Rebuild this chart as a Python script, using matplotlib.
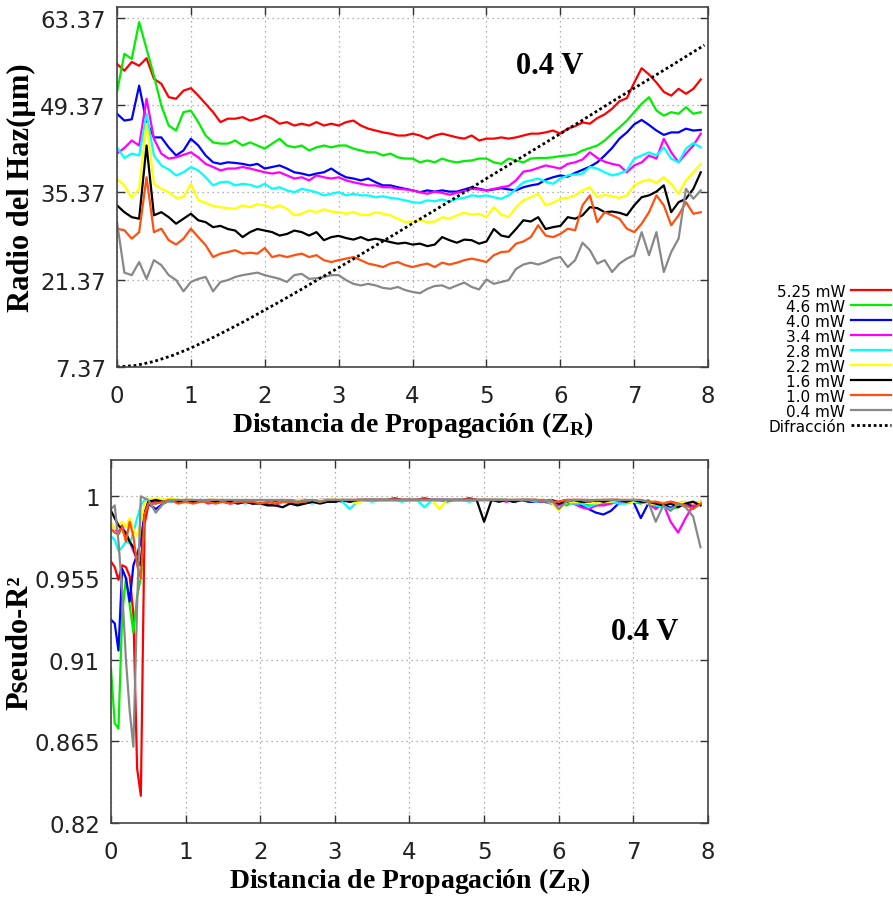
import matplotlib
matplotlib.use("Agg")
import matplotlib.pyplot as plt

# ---- data ----
labels = ["5.25 mW", "4.6 mW", "4.0 mW", "3.4 mW", "2.8 mW",
          "2.2 mW", "1.6 mW", "1.0 mW", "0.4 mW"]
colors = ["#ff0000", "#00ee00", "#0000ff", "#ff00ff", "#00ffff",
          "#ffff00", "#000000", "#ff5010", "#888888"]

z_top = [0.0, 0.1, 0.2, 0.3, 0.4, 0.5, 0.6, 0.7, 0.8, 0.9,
         1.0, 1.1, 1.2, 1.3, 1.4, 1.5, 1.6, 1.7, 1.8, 1.9,
         2.0, 2.1, 2.2, 2.3, 2.4, 2.5, 2.6, 2.7, 2.8, 2.9,
         3.0, 3.1, 3.2, 3.3, 3.4, 3.5, 3.6, 3.7, 3.8, 3.9,
         4.0, 4.1, 4.2, 4.3, 4.4, 4.5, 4.6, 4.7, 4.8, 4.9,
         5.0, 5.1, 5.2, 5.3, 5.4, 5.5, 5.6, 5.7, 5.8, 5.9,
         6.0, 6.1, 6.2, 6.3, 6.4, 6.5, 6.6, 6.7, 6.8, 6.9,
         7.0, 7.1, 7.2, 7.3, 7.4, 7.5, 7.6, 7.7, 7.8, 7.9]

r_525 = [56.0, 54.9, 56.3, 55.7, 56.9, 53.6, 52.8, 50.65, 50.4, 51.7,
         52.1, 50.9, 49.6, 48.25, 46.65, 47.2, 47.2, 47.45, 46.9, 47.2,
         47.7, 47.2, 46.4, 46.65, 46.1, 46.4, 46.1, 46.65, 46.1, 46.4,
         46.1, 46.65, 46.9, 46.1, 45.6, 45.3, 45.0, 44.8, 44.5, 44.5,
         44.8, 44.5, 44.0, 44.5, 44.8, 44.5, 44.2, 44.0, 44.5, 43.7,
         44.0, 44.0, 44.2, 44.0, 44.2, 44.5, 44.8, 44.8, 45.0, 45.3,
         44.8, 45.6, 46.0, 46.6, 46.4, 47.3, 47.9, 48.8, 50.0, 50.5,
         53.0, 55.3, 54.3, 53.0, 51.5, 50.9, 52.0, 51.2, 52.0, 53.5]
r_46 = [51.45, 57.6, 56.8, 62.7, 58.4, 54.1, 49.3, 46.1, 45.3, 48.25,
        48.5, 46.65, 44.5, 43.4, 43.2, 43.2, 43.7, 42.9, 43.4, 42.9,
        42.4, 43.2, 43.97, 42.9, 42.6, 42.9, 42.1, 42.6, 42.9, 42.6,
        42.9, 42.9, 42.4, 42.1, 41.8, 41.8, 41.3, 41.6, 41.0, 40.8,
        40.8, 40.2, 40.5, 40.2, 40.8, 40.4, 40.2, 40.4, 40.5, 40.8,
        40.8, 40.2, 39.95, 40.8, 40.5, 40.2, 40.8, 40.9, 40.9, 41.0,
        41.2, 41.3, 41.5, 42.1, 42.5, 42.9, 43.7, 44.8, 45.8, 46.9,
        48.25, 49.6, 50.65, 48.5, 47.7, 48.25, 48.0, 49.05, 48.0, 48.25]
r_40 = [48.0, 46.9, 47.1, 52.5, 46.65, 44.2, 44.2, 42.6, 41.3, 42.1,
        43.97, 42.9, 41.3, 40.2, 39.95, 40.2, 40.1, 39.95, 39.7, 39.95,
        39.2, 39.45, 39.7, 39.2, 38.6, 38.4, 38.1, 38.4, 38.6, 39.2,
        38.4, 37.8, 37.6, 37.3, 37.6, 37.0, 36.5, 36.5, 36.2, 35.95,
        35.7, 35.4, 35.7, 35.5, 35.7, 35.5, 35.5, 35.85, 36.2, 35.95,
        35.7, 35.85, 36.05, 35.85, 35.7, 36.2, 36.5, 36.7, 37.4, 37.8,
        38.1, 37.9, 38.5, 39.0, 39.5, 40.2, 41.3, 42.5, 44.0, 45.0,
        46.3, 47.0, 46.2, 45.3, 44.6, 45.0, 45.0, 45.6, 45.3, 45.4]
r_34 = [41.6, 42.5, 43.7, 42.9, 50.4, 43.97, 41.6, 40.8, 41.0, 41.4,
        41.8, 41.0, 39.95, 39.45, 38.9, 39.2, 39.2, 39.45, 39.2, 38.9,
        38.6, 38.4, 38.6, 38.1, 37.6, 37.8, 37.3, 38.1, 37.8, 37.6,
        37.8, 37.3, 37.0, 36.75, 36.5, 36.5, 36.2, 36.2, 35.95, 35.85,
        35.7, 35.4, 35.15, 35.5, 35.3, 35.0, 35.3, 35.6, 35.95, 35.85,
        35.7, 35.95, 36.2, 36.4, 37.3, 38.7, 38.9, 39.3, 39.7, 39.45,
        39.2, 39.95, 40.2, 40.65, 41.8, 40.9, 40.3, 39.95, 39.7, 38.6,
        39.7, 40.2, 41.3, 40.8, 43.97, 41.8, 40.2, 41.6, 42.9, 44.8]
r_28 = [42.6, 40.9, 41.6, 41.3, 48.0, 41.3, 39.7, 39.05, 38.1, 38.6,
        39.45, 38.9, 37.8, 36.5, 37.0, 37.1, 36.5, 36.75, 36.6, 36.2,
        36.75, 35.95, 36.2, 35.7, 35.4, 35.95, 35.7, 35.4, 34.9, 35.15,
        35.4, 34.9, 35.15, 34.9, 34.9, 34.6, 34.75, 34.5, 34.35, 34.1,
        33.8, 33.7, 34.1, 33.95, 34.25, 33.9, 34.35, 34.5, 34.9, 34.75,
        34.9, 34.6, 34.35, 34.9, 35.95, 37.0, 37.3, 37.6, 37.1, 36.75,
        37.6, 38.1, 38.25, 38.4, 39.45, 39.2, 38.6, 38.1, 38.4, 38.9,
        40.8, 41.3, 41.8, 41.3, 42.6, 40.8, 40.2, 42.4, 43.3, 42.6]
r_22 = [37.55, 36.5, 34.5, 35.95, 46.4, 36.75, 35.95, 35.4, 34.5, 34.6,
        36.75, 34.1, 33.7, 33.2, 33.0, 32.85, 32.75, 33.3, 33.0, 33.5,
        33.3, 32.85, 33.3, 32.75, 31.7, 31.95, 32.5, 32.2, 32.65, 32.3,
        32.2, 31.95, 32.2, 31.8, 31.7, 32.2, 31.95, 31.7, 31.15, 30.6,
        30.7, 30.9, 30.6, 30.7, 31.4, 31.15, 31.7, 32.1, 31.8, 31.95,
        31.4, 33.0, 31.8, 31.4, 33.0, 34.1, 34.6, 35.15, 33.3, 33.7,
        34.35, 34.5, 34.9, 35.7, 36.2, 34.6, 35.0, 34.75, 34.5, 34.9,
        36.5, 37.1, 37.45, 36.9, 37.8, 36.75, 35.15, 37.3, 38.6, 39.95]
r_16 = [33.3, 32.2, 31.4, 31.15, 42.9, 31.7, 32.2, 31.4, 30.35, 31.15,
        31.95, 30.9, 30.6, 29.8, 30.0, 29.5, 29.25, 28.2, 29.0, 29.5,
        29.25, 29.0, 28.45, 28.7, 29.25, 29.0, 28.45, 29.0, 27.7, 28.2,
        28.4, 28.05, 27.8, 28.2, 27.7, 27.95, 27.7, 27.4, 27.15, 27.3,
        27.0, 27.15, 26.75, 27.0, 28.2, 27.7, 27.3, 27.8, 27.7, 27.15,
        27.5, 29.5, 28.45, 28.2, 29.5, 30.9, 30.7, 31.4, 29.5, 29.8,
        30.0, 31.4, 31.15, 31.7, 33.0, 32.85, 32.2, 32.3, 32.1, 31.7,
        33.3, 34.6, 34.9, 35.5, 36.5, 32.2, 33.8, 34.35, 35.95, 38.6]
r_10 = [29.55, 29.3, 27.95, 29.0, 37.8, 29.0, 29.55, 27.7, 27.0, 27.95,
        29.55, 28.2, 26.9, 25.0, 25.55, 25.8, 26.1, 25.55, 25.7, 25.55,
        26.45, 25.0, 25.3, 25.0, 25.3, 25.55, 25.0, 25.3, 24.5, 24.2,
        24.5, 24.75, 25.0, 24.5, 23.95, 23.7, 23.4, 23.95, 24.2, 23.7,
        23.4, 23.7, 23.95, 23.4, 24.1, 23.8, 24.1, 24.5, 24.75, 24.5,
        24.2, 25.3, 25.8, 25.9, 27.15, 27.5, 28.2, 30.1, 28.45, 28.2,
        28.7, 29.55, 29.3, 33.3, 34.9, 30.6, 32.2, 31.7, 31.15, 29.55,
        29.0, 30.35, 32.2, 34.9, 33.3, 30.1, 31.7, 33.8, 31.95, 32.2]
r_04 = [30.6, 22.5, 22.1, 24.2, 21.5, 24.5, 23.7, 22.1, 21.3, 19.5,
        21.0, 21.5, 21.8, 19.5, 21.0, 21.3, 21.8, 22.1, 22.3, 22.5,
        22.1, 21.8, 21.5, 21.0, 22.1, 22.3, 21.5, 21.6, 21.8, 22.1,
        22.1, 21.3, 20.7, 20.45, 20.7, 20.45, 20.05, 19.9, 20.2, 19.7,
        19.4, 19.2, 19.9, 20.35, 20.45, 19.95, 20.45, 20.9, 20.2, 19.8,
        21.4, 20.7, 21.0, 21.3, 23.1, 23.8, 24.1, 23.8, 24.2, 24.75,
        25.0, 23.4, 24.5, 27.3, 26.1, 23.95, 24.5, 22.6, 23.95, 24.75,
        25.3, 29.0, 25.3, 29.0, 22.6, 25.8, 27.95, 35.95, 34.35, 35.7]
radius = [r_525, r_46, r_40, r_34, r_28, r_22, r_16, r_10, r_04]

z_dif = [0.0, 0.25, 0.5, 0.75, 1.0, 1.25, 1.5, 1.75, 2.0, 2.25, 2.5, 2.75,
         3.0, 3.25, 3.5, 3.75, 4.0, 4.25, 4.5, 4.75, 5.0, 5.25, 5.5, 5.75,
         6.0, 6.25, 6.5, 6.75, 7.0, 7.25, 7.5, 7.75, 7.95]
w_dif = [7.37, 7.6, 8.25, 9.2, 10.4, 11.8, 13.3, 14.85, 16.5, 18.15, 19.85, 21.6,
         23.3, 25.05, 26.85, 28.6, 30.4, 32.15, 33.95, 35.75, 37.6, 39.4, 41.2, 43.0,
         44.8, 46.6, 48.45, 50.3, 52.1, 53.9, 55.7, 57.55, 59.0]

z_bot = [0.0, 0.05, 0.1, 0.15, 0.2, 0.25, 0.3, 0.35, 0.4, 0.45, 0.5,
         0.6, 0.7, 0.8, 0.9, 1.0, 1.1, 1.2, 1.3, 1.4, 1.5,
         1.6, 1.7, 1.8, 1.9, 2.0, 2.1, 2.2, 2.3, 2.4, 2.5,
         2.6, 2.7, 2.8, 2.9, 3.0, 3.1, 3.2, 3.3, 3.4, 3.5,
         3.6, 3.7, 3.8, 3.9, 4.0, 4.1, 4.2, 4.3, 4.4, 4.5,
         4.6, 4.7, 4.8, 4.9, 5.0, 5.1, 5.2, 5.3, 5.4, 5.5,
         5.6, 5.7, 5.8, 5.9, 6.0, 6.1, 6.2, 6.3, 6.4, 6.5,
         6.6, 6.7, 6.8, 6.9, 7.0, 7.1, 7.2, 7.3, 7.4, 7.5,
         7.6, 7.7, 7.8, 7.9]

q_525 = [0.964, 0.961, 0.954, 0.962, 0.961, 0.956, 0.935, 0.85, 0.835, 0.985, 0.995,
         0.997, 0.998, 0.998, 0.997, 0.998, 0.998, 0.997, 0.998, 0.998, 0.997,
         0.998, 0.997, 0.998, 0.997, 0.997, 0.996, 0.997, 0.998, 0.997, 0.998,
         0.998, 0.997, 0.998, 0.998, 0.998, 0.997, 0.998, 0.998, 0.998, 0.998,
         0.998, 0.998, 0.999, 0.998, 0.998, 0.998, 0.999, 0.998, 0.998, 0.998,
         0.998, 0.998, 0.999, 0.998, 0.998, 0.998, 0.998, 0.998, 0.998, 0.998,
         0.998, 0.998, 0.997, 0.998, 0.997, 0.998, 0.998, 0.998, 0.998, 0.997,
         0.998, 0.998, 0.998, 0.997, 0.998, 0.997, 0.996, 0.997, 0.996, 0.997,
         0.996, 0.997, 0.995, 0.997]
q_46 = [0.905, 0.875, 0.872, 0.935, 0.955, 0.94, 0.925, 0.945, 0.955, 0.99, 0.997,
        0.996, 0.998, 0.997, 0.998, 0.997, 0.998, 0.997, 0.998, 0.997, 0.997,
        0.997, 0.998, 0.997, 0.996, 0.997, 0.997, 0.996, 0.997, 0.997, 0.998,
        0.997, 0.998, 0.997, 0.998, 0.998, 0.998, 0.997, 0.998, 0.998, 0.998,
        0.998, 0.998, 0.998, 0.998, 0.998, 0.998, 0.998, 0.998, 0.998, 0.997,
        0.998, 0.998, 0.998, 0.998, 0.998, 0.998, 0.998, 0.998, 0.997, 0.998,
        0.997, 0.998, 0.997, 0.997, 0.996, 0.995, 0.997, 0.996, 0.995, 0.995,
        0.996, 0.997, 0.998, 0.997, 0.997, 0.996, 0.998, 0.994, 0.995, 0.993,
        0.994, 0.996, 0.997, 0.996]
q_40 = [0.932, 0.930, 0.915, 0.96, 0.955, 0.942, 0.962, 0.968, 0.975, 0.992, 0.996,
        0.993, 0.996, 0.998, 0.997, 0.998, 0.997, 0.998, 0.997, 0.997, 0.998,
        0.997, 0.997, 0.998, 0.997, 0.997, 0.997, 0.996, 0.997, 0.998, 0.997,
        0.998, 0.997, 0.998, 0.998, 0.997, 0.998, 0.998, 0.997, 0.998, 0.998,
        0.998, 0.998, 0.998, 0.998, 0.998, 0.998, 0.998, 0.998, 0.998, 0.998,
        0.998, 0.998, 0.998, 0.998, 0.998, 0.998, 0.998, 0.998, 0.997, 0.998,
        0.997, 0.997, 0.998, 0.997, 0.996, 0.997, 0.996, 0.995, 0.993, 0.991,
        0.990, 0.992, 0.996, 0.997, 0.997, 0.988, 0.996, 0.995, 0.996, 0.994,
        0.995, 0.996, 0.994, 0.996]
q_34 = [0.985, 0.982, 0.98, 0.984, 0.978, 0.975, 0.97, 0.965, 0.962, 0.99, 0.997,
        0.997, 0.998, 0.997, 0.998, 0.997, 0.997, 0.998, 0.996, 0.997, 0.997,
        0.996, 0.997, 0.997, 0.996, 0.997, 0.996, 0.995, 0.997, 0.997, 0.996,
        0.997, 0.997, 0.998, 0.997, 0.997, 0.998, 0.997, 0.998, 0.998, 0.998,
        0.998, 0.998, 0.998, 0.998, 0.998, 0.998, 0.998, 0.998, 0.998, 0.998,
        0.998, 0.998, 0.998, 0.998, 0.998, 0.998, 0.998, 0.997, 0.998, 0.998,
        0.998, 0.997, 0.997, 0.996, 0.995, 0.997, 0.996, 0.994, 0.993, 0.995,
        0.995, 0.996, 0.997, 0.997, 0.998, 0.997, 0.996, 0.993, 0.996, 0.986,
        0.980, 0.988, 0.995, 0.996]
q_28 = [0.978, 0.976, 0.97, 0.972, 0.975, 0.974, 0.98, 0.988, 0.995, 0.998, 0.998,
        0.998, 0.998, 0.997, 0.998, 0.997, 0.998, 0.997, 0.997, 0.998, 0.997,
        0.997, 0.997, 0.996, 0.997, 0.997, 0.997, 0.996, 0.997, 0.996, 0.997,
        0.997, 0.996, 0.998, 0.997, 0.998, 0.997, 0.993, 0.997, 0.998, 0.997,
        0.998, 0.998, 0.998, 0.997, 0.998, 0.998, 0.994, 0.998, 0.998, 0.998,
        0.998, 0.998, 0.997, 0.998, 0.998, 0.998, 0.998, 0.998, 0.998, 0.998,
        0.998, 0.997, 0.998, 0.996, 0.997, 0.997, 0.996, 0.996, 0.994, 0.996,
        0.997, 0.997, 0.996, 0.996, 0.997, 0.997, 0.996, 0.995, 0.994, 0.993,
        0.995, 0.996, 0.997, 0.996]
q_22 = [0.985, 0.982, 0.984, 0.986, 0.983, 0.988, 0.982, 0.978, 0.985, 0.996, 0.998,
        0.999, 0.998, 0.999, 0.998, 0.998, 0.998, 0.997, 0.998, 0.998, 0.998,
        0.997, 0.998, 0.997, 0.997, 0.998, 0.997, 0.996, 0.997, 0.997, 0.998,
        0.998, 0.997, 0.998, 0.998, 0.998, 0.998, 0.998, 0.996, 0.998, 0.998,
        0.998, 0.998, 0.998, 0.998, 0.998, 0.998, 0.998, 0.998, 0.993, 0.998,
        0.998, 0.998, 0.998, 0.998, 0.998, 0.998, 0.998, 0.998, 0.998, 0.998,
        0.998, 0.998, 0.998, 0.997, 0.992, 0.997, 0.997, 0.997, 0.997, 0.996,
        0.997, 0.997, 0.998, 0.997, 0.997, 0.998, 0.996, 0.996, 0.997, 0.995,
        0.996, 0.997, 0.996, 0.997]
q_16 = [0.992, 0.988, 0.984, 0.982, 0.98, 0.975, 0.972, 0.965, 0.962, 0.99, 0.997,
        0.998, 0.997, 0.998, 0.997, 0.998, 0.997, 0.998, 0.997, 0.997, 0.998,
        0.997, 0.996, 0.997, 0.996, 0.996, 0.995, 0.995, 0.994, 0.996, 0.995,
        0.996, 0.997, 0.996, 0.997, 0.997, 0.998, 0.997, 0.998, 0.998, 0.998,
        0.998, 0.998, 0.998, 0.998, 0.998, 0.998, 0.998, 0.998, 0.998, 0.998,
        0.998, 0.998, 0.998, 0.998, 0.986, 0.998, 0.997, 0.998, 0.997, 0.998,
        0.998, 0.998, 0.997, 0.998, 0.996, 0.997, 0.998, 0.997, 0.997, 0.998,
        0.997, 0.998, 0.998, 0.997, 0.998, 0.997, 0.997, 0.996, 0.995, 0.996,
        0.994, 0.996, 0.997, 0.995]
q_10 = [0.982, 0.98, 0.979, 0.983, 0.975, 0.986, 0.978, 0.962, 0.955, 0.99, 0.996,
        0.996, 0.997, 0.998, 0.996, 0.997, 0.996, 0.997, 0.997, 0.996, 0.997,
        0.996, 0.997, 0.997, 0.997, 0.996, 0.997, 0.996, 0.997, 0.997, 0.997,
        0.997, 0.998, 0.997, 0.998, 0.998, 0.998, 0.998, 0.998, 0.998, 0.998,
        0.998, 0.998, 0.998, 0.998, 0.998, 0.998, 0.998, 0.998, 0.998, 0.998,
        0.998, 0.998, 0.998, 0.998, 0.998, 0.998, 0.998, 0.998, 0.998, 0.998,
        0.998, 0.998, 0.998, 0.997, 0.997, 0.998, 0.998, 0.998, 0.997, 0.998,
        0.998, 0.998, 0.998, 0.998, 0.998, 0.998, 0.997, 0.997, 0.996, 0.997,
        0.996, 0.995, 0.993, 0.996]
q_04 = [0.993, 0.995, 0.975, 0.948, 0.91, 0.882, 0.862, 0.94, 1.0, 0.999, 0.998,
        0.991, 0.996, 0.998, 0.998, 0.998, 0.998, 0.998, 0.998, 0.998, 0.998,
        0.998, 0.998, 0.998, 0.998, 0.998, 0.998, 0.998, 0.998, 0.998, 0.997,
        0.998, 0.998, 0.997, 0.998, 0.998, 0.998, 0.998, 0.998, 0.998, 0.998,
        0.998, 0.998, 0.998, 0.998, 0.998, 0.998, 0.998, 0.998, 0.998, 0.998,
        0.998, 0.998, 0.998, 0.998, 0.998, 0.998, 0.998, 0.998, 0.998, 0.998,
        0.998, 0.998, 0.997, 0.998, 0.993, 0.997, 0.998, 0.998, 0.998, 0.998,
        0.998, 0.998, 0.998, 0.998, 0.998, 0.998, 0.997, 0.986, 0.995, 0.992,
        0.996, 0.994, 0.989, 0.972]
pseudo_r2 = [q_525, q_46, q_40, q_34, q_28, q_22, q_16, q_10, q_04]

top_yticks = [7.37, 21.37, 35.37, 49.37, 63.37]
top_yticklabels = ["7.37", "21.37", "35.37", "49.37", "63.37"]
bot_yticks = [0.82, 0.865, 0.91, 0.955, 1]
bot_yticklabels = ["0.82", "0.865", "0.91", "0.955", "1"]
xticks = [0, 1, 2, 3, 4, 5, 6, 7, 8]

# ---- style ----
SERIF = "Liberation Serif"
plt.rcParams["mathtext.fontset"] = "custom"
plt.rcParams["mathtext.rm"] = "Liberation Serif:bold"
plt.rcParams["mathtext.bf"] = "Liberation Serif:bold"
plt.rcParams["font.family"] = "DejaVu Sans"

xlabel = "Distancia de Propagación $\\mathbf{(Z_R)}$"


def style_axes(ax):
    ax.set_xlim(0, 8)
    ax.set_xticks(xticks)
    ax.tick_params(direction="in", length=6, width=1, top=True, right=True,
                   labelsize=16.5, colors="#333333", labelcolor="#222222")
    ax.tick_params(axis="x", pad=12)
    ax.tick_params(axis="y", pad=8)
    ax.grid(True, color="#999999", linestyle=(0, (1, 3)), linewidth=0.9)
    for sp in ax.spines.values():
        sp.set_color("#444444")
        sp.set_linewidth(1.2)


fig = plt.figure(figsize=(8.93, 9.04), dpi=100)

# top: beam radius
ax1 = fig.add_axes([0.131, 0.593, 0.662, 0.398])
for vals, c, lab in zip(radius, colors, labels):
    ax1.plot(z_top, vals, color=c, lw=1.6, label=lab)
ax1.plot(z_dif, w_dif, color="black", lw=2, linestyle=(0, (1, 1)),
         label="Difracción")
style_axes(ax1)
ax1.set_ylim(7.37, 65.1)
ax1.set_yticks(top_yticks)
ax1.set_yticklabels(top_yticklabels)
ax1.set_xlabel(xlabel, family=SERIF, weight="bold", fontsize=20, labelpad=2)
ax1.set_ylabel("Radio del Haz(µm)", family=SERIF, weight="bold", fontsize=22,
               labelpad=3)
ax1.text(5.85, 55.7, "0.4 V", family=SERIF, weight="bold", fontsize=22,
         ha="center", va="center")

leg = ax1.legend(loc="center right", bbox_to_anchor=(0.998, 0.602),
                 bbox_transform=fig.transFigure, frameon=False,
                 markerfirst=False, fontsize=11, labelspacing=0.0,
                 handlelength=2.6, handletextpad=0.4, borderpad=0,
                 borderaxespad=0)
for t in leg.get_texts():
    t.set_ha("right")

# bottom: pseudo R^2
ax2 = fig.add_axes([0.1243, 0.0885, 0.6685, 0.4015])
for vals, c in zip(pseudo_r2, colors):
    ax2.plot(z_bot, vals, color=c, lw=1.6)
style_axes(ax2)
ax2.set_ylim(0.82, 1.02)
ax2.set_yticks(bot_yticks)
ax2.set_yticklabels(bot_yticklabels)
ax2.set_xlabel(xlabel, family=SERIF, weight="bold", fontsize=20, labelpad=2)
ax2.set_ylabel("Pseudo-R²", family=SERIF, weight="bold", fontsize=22,
               labelpad=0)
ax2.text(7.15, 0.9256, "0.4 V", family=SERIF, weight="bold", fontsize=22,
         ha="center", va="center")

fig.savefig("out.png", dpi=100)
